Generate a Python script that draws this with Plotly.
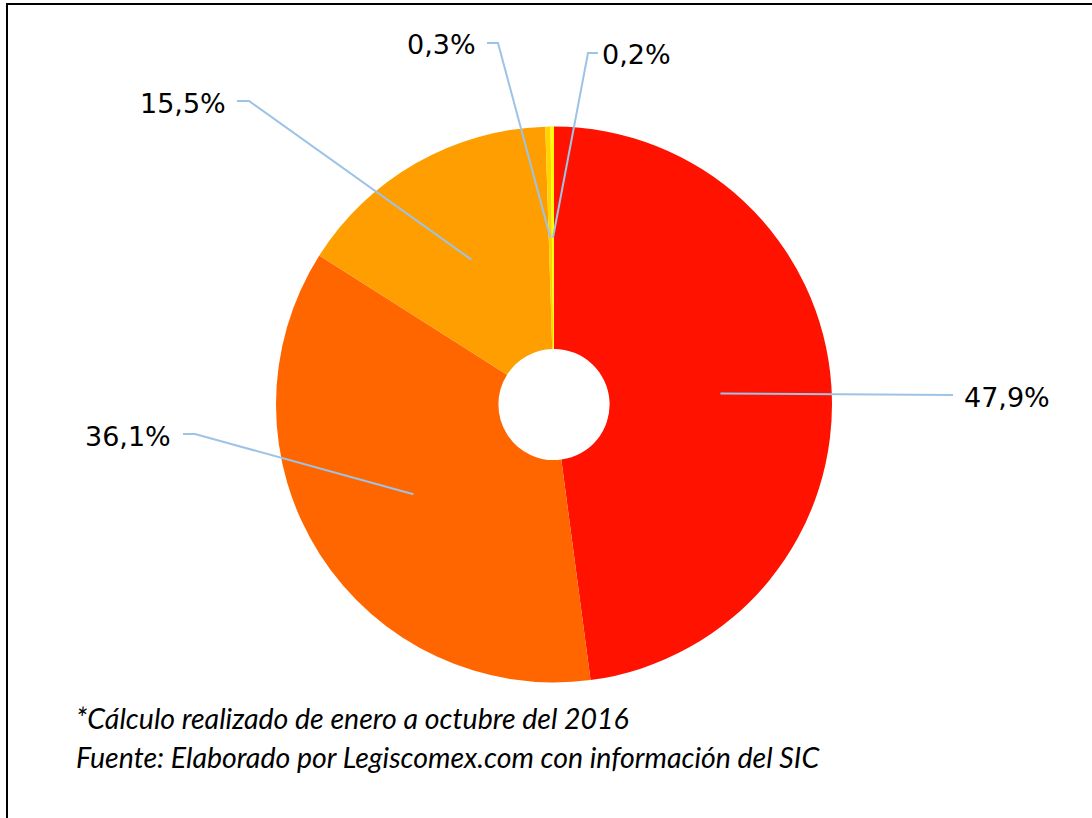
import math
import plotly.graph_objects as go

# ---- data ----
categories = ["A", "B", "C", "D", "E"]
values = [47.9, 36.1, 15.5, 0.3, 0.2]
labels_text = ["47,9%", "36,1%", "15,5%", "0,3%", "0,2%"]
colors = ["#FF1200", "#FF6600", "#FF9E00", "#FFD200", "#FFFF00"]
notes = ["*Cálculo realizado de enero a octubre del 2016",
         "Fuente: Elaborado por Legiscomex.com con información del SIC"]

W, H = 1092, 818
CX, CY, R = 554, 404.5, 278  # pie geometry in pixels

def px(x):
    return x / W

def py(y):
    return 1 - y / H

fig = go.Figure(go.Pie(
    labels=categories,
    values=values,
    marker=dict(colors=colors, line=dict(width=0)),
    hole=0.2,
    sort=False,
    direction="clockwise",
    rotation=0,
    textinfo="none",
    hoverinfo="label+percent",
    showlegend=False,
    domain=dict(x=[px(CX - R), px(CX + R)], y=[py(CY + R), py(CY - R)]),
))

# label layout: (text x, text y, xanchor, elbow points list from label side)
label_layout = [
    (962, 397, "left", [(953, 395)]),
    (173, 436, "right", [(183, 434), (195, 434)]),
    (228, 103, "right", [(237, 101), (249, 101)]),
    (478, 45, "right", [(487, 43), (498, 43)]),
    (600, 55, "left", [(598, 53), (588, 53)]),
]

total = sum(values)
cum = 0.0
shapes = []
annotations = []
for v, txt, (lx, ly, xa, elbows) in zip(values, labels_text, label_layout):
    mid = (cum + v / 2) / total * 2 * math.pi
    cum += v
    ax = CX + 0.6 * R * math.sin(mid)
    ay = CY - 0.6 * R * math.cos(mid)
    pts = elbows + [(ax, ay)]
    path = "M " + " L ".join(f"{px(x):.5f},{py(y):.5f}" for x, y in pts)
    shapes.append(dict(type="path", xref="paper", yref="paper", path=path,
                       line=dict(color="#9DC3E6", width=2)))
    annotations.append(dict(x=px(lx), y=py(ly), xref="paper", yref="paper",
                            text=txt, showarrow=False, xanchor=xa, yanchor="middle",
                            font=dict(family="DejaVu Sans", size=27, color="#000000")))

for note, ny in zip(notes, [718, 757]):
    annotations.append(dict(
        x=px(74), y=py(ny), xref="paper", yref="paper", xanchor="left", yanchor="middle",
        text=f"<i>{note}</i>", showarrow=False, align="left",
        font=dict(family="Lato", size=28.5, color="#000000"),
    ))

# chart frame
shapes.append(dict(type="rect", xref="paper", yref="paper",
                   x0=px(7), y0=py(830), x1=px(1100), y1=py(4),
                   line=dict(color="#000000", width=2)))

fig.update_layout(
    width=W, height=H,
    margin=dict(l=0, r=0, t=0, b=0),
    paper_bgcolor="white",
    plot_bgcolor="white",
    shapes=shapes,
    annotations=annotations,
)

fig.write_html("out.html",
               config={"displayModeBar": False},
               post_script="document.body.style.margin='0';document.body.style.overflow='hidden';")
